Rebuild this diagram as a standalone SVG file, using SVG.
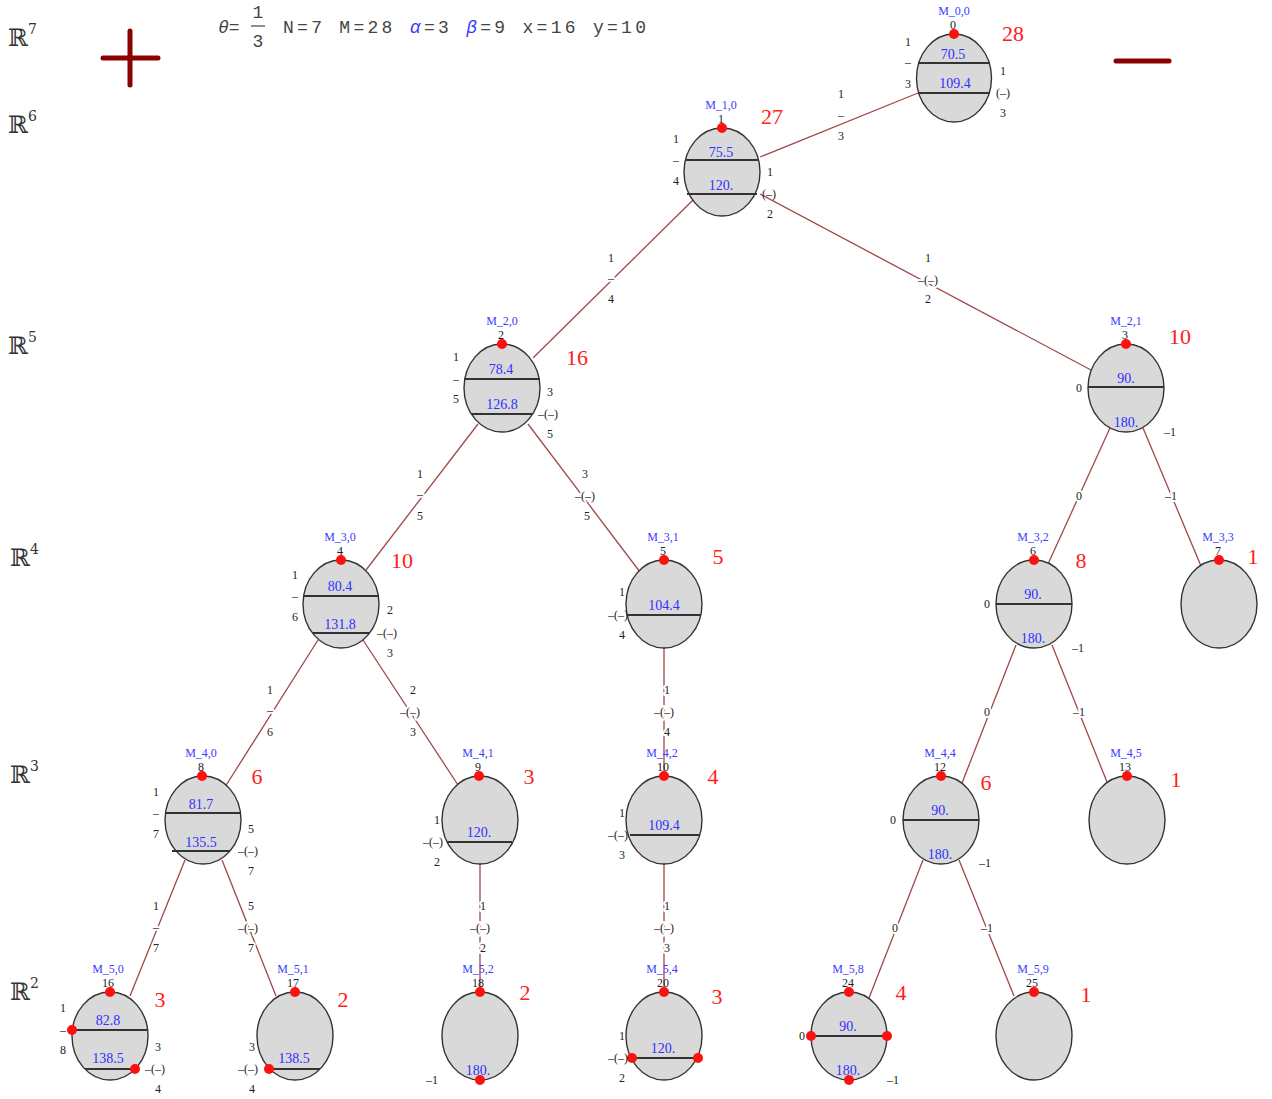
<svg xmlns="http://www.w3.org/2000/svg" width="1272" height="1099" viewBox="0 0 1272 1099">
<defs>
<style>
text{font-family:"Liberation Serif","DejaVu Serif",serif}
.R{font-family:"DejaVu Serif",serif;font-size:24px;fill:#333}
.R tspan{font-size:14px}
.hd{font-family:"Liberation Mono","DejaVu Sans Mono",monospace;font-size:18px;fill:#444}
.nd{fill:#d9d9d9;stroke:#333;stroke-width:1.4}
.ln{stroke:#333;stroke-width:2}
.nm{font-size:12px;fill:#3a3aff;text-anchor:middle}
.ix{font-size:12px;fill:#222;text-anchor:middle}
.v{font-size:14px;fill:#3030ff;text-anchor:middle}
.c{font-size:22px;fill:#ff2020;text-anchor:middle}
.l{font-size:12px;fill:#222;text-anchor:middle}
.elab text{stroke:#fff;stroke-width:4;paint-order:stroke;stroke-linejoin:round}
.dot{fill:#ff1010}
.cn line{stroke:#a04848;stroke-width:1.3}
.pm{stroke:#8b0000;stroke-width:5;stroke-linecap:round}
</style>
</defs>
<rect width="1272" height="1099" fill="#fff"/>
<g id="axis">
<text class="R" x="8" y="46">ℝ<tspan dy="-12">7</tspan></text>
<text class="R" x="8" y="133">ℝ<tspan dy="-12">6</tspan></text>
<text class="R" x="8" y="354">ℝ<tspan dy="-12">5</tspan></text>
<text class="R" x="10" y="566">ℝ<tspan dy="-12">4</tspan></text>
<text class="R" x="10" y="783">ℝ<tspan dy="-12">3</tspan></text>
<text class="R" x="10" y="1000">ℝ<tspan dy="-12">2</tspan></text>
</g>
<g id="plus"><line class="pm" x1="103" y1="58" x2="158" y2="58"/><line class="pm" x1="130" y1="31" x2="130" y2="85"/></g>
<g id="minus"><line class="pm" x1="1116" y1="61" x2="1169" y2="61"/></g>
<g id="header">
<text class="hd" x="218" y="33" font-style="italic">θ=</text>
<text class="hd" x="258" y="18" text-anchor="middle" font-family="Liberation Sans">1</text>
<line x1="251" y1="26" x2="265" y2="26" stroke="#444" stroke-width="1.2"/>
<text class="hd" x="258" y="47" text-anchor="middle" font-family="Liberation Sans">3</text>
<text class="hd" x="283" y="33" textLength="363">N=7 M=28 <tspan font-style="italic" fill="#3a3aff">α</tspan>=3 <tspan font-style="italic" fill="#3a3aff">β</tspan>=9 x=16 y=10</text>
</g>
<g id="connectors" class="cn">
<line x1="918" y1="93" x2="760" y2="157"/>
<line x1="693" y1="200" x2="533" y2="358"/>
<line x1="760" y1="194" x2="1091" y2="370"/>
<line x1="478" y1="424" x2="366" y2="570"/>
<line x1="528" y1="424" x2="640" y2="572"/>
<line x1="1110" y1="428" x2="1048" y2="564"/>
<line x1="1143" y1="428" x2="1201" y2="566"/>
<line x1="318" y1="640" x2="225" y2="787"/>
<line x1="363" y1="640" x2="458" y2="785"/>
<line x1="664" y1="648" x2="664" y2="776"/>
<line x1="1016" y1="645" x2="962" y2="783"/>
<line x1="1052" y1="645" x2="1107" y2="782"/>
<line x1="185" y1="860" x2="130" y2="996"/>
<line x1="222" y1="860" x2="276" y2="996"/>
<line x1="480" y1="864" x2="480" y2="992"/>
<line x1="664" y1="864" x2="664" y2="992"/>
<line x1="923" y1="860" x2="869" y2="998"/>
<line x1="959" y1="860" x2="1014" y2="996"/>
<g class="elab">
<text class="l" x="841" y="98">1</text><text class="l" x="841" y="119">–</text><text class="l" x="841" y="140">3</text>
<text class="l" x="611" y="262">1</text><text class="l" x="611" y="282">–</text><text class="l" x="611" y="303">4</text>
<text class="l" x="928" y="262">1</text><text class="l" x="928" y="284">–(–)</text><text class="l" x="928" y="303">2</text>
<text class="l" x="420" y="478">1</text><text class="l" x="420" y="498">–</text><text class="l" x="420" y="520">5</text>
<text class="l" x="585" y="478">3</text><text class="l" x="585" y="500">–(–)</text><text class="l" x="587" y="520">5</text>
<text class="l" x="1079" y="500">0</text>
<text class="l" x="1171" y="500">–1</text>
<text class="l" x="270" y="694">1</text><text class="l" x="270" y="714">–</text><text class="l" x="270" y="736">6</text>
<text class="l" x="413" y="694">2</text><text class="l" x="410" y="716">–(–)</text><text class="l" x="413" y="736">3</text>
<text class="l" x="667" y="694">1</text><text class="l" x="664" y="716">–(–)</text><text class="l" x="667" y="736">4</text>
<text class="l" x="987" y="716">0</text>
<text class="l" x="1079" y="716">–1</text>
<text class="l" x="156" y="910">1</text><text class="l" x="156" y="931">–</text><text class="l" x="156" y="952">7</text>
<text class="l" x="251" y="910">5</text><text class="l" x="248" y="932">–(–)</text><text class="l" x="251" y="952">7</text>
<text class="l" x="483" y="910">1</text><text class="l" x="480" y="932">–(–)</text><text class="l" x="483" y="952">2</text>
<text class="l" x="667" y="910">1</text><text class="l" x="664" y="932">–(–)</text><text class="l" x="667" y="952">3</text>
<text class="l" x="895" y="932">0</text>
<text class="l" x="987" y="932">–1</text>
</g>
</g>
<g id="M_0_0">
<ellipse class="nd" cx="954" cy="78" rx="37.5" ry="44"/>
<line class="ln" x1="918" y1="63" x2="990" y2="63"/><line class="ln" x1="918" y1="93" x2="990" y2="93"/>
<text class="nm" x="954" y="15">M_0,0</text><text class="ix" x="953" y="29">0</text>
<circle class="dot" cx="954" cy="34" r="5"/>
<text class="v" x="953" y="59">70.5</text><text class="v" x="955" y="88">109.4</text>
<text class="c" x="1013" y="41">28</text>
<text class="l" x="908" y="46">1</text><text class="l" x="908" y="66">–</text><text class="l" x="908" y="88">3</text>
<text class="l" x="1003" y="75">1</text><text class="l" x="1003" y="97">(–)</text><text class="l" x="1003" y="117">3</text>
</g>
<g id="M_1_0">
<ellipse class="nd" cx="722" cy="172" rx="38" ry="44"/>
<line class="ln" x1="685" y1="160" x2="759" y2="160"/><line class="ln" x1="687" y1="194" x2="757" y2="194"/>
<text class="nm" x="721" y="109">M_1,0</text><text class="ix" x="721" y="123">1</text>
<circle class="dot" cx="722" cy="128" r="5"/>
<text class="v" x="721" y="157">75.5</text><text class="v" x="721" y="190">120.</text>
<text class="c" x="772" y="124">27</text>
<text class="l" x="676" y="143">1</text><text class="l" x="676" y="164">–</text><text class="l" x="676" y="185">4</text>
<text class="l" x="770" y="176">1</text><text class="l" x="769" y="198">(–)</text><text class="l" x="770" y="218">2</text>
</g>
<g id="M_2_0">
<ellipse class="nd" cx="502" cy="388" rx="38" ry="44"/>
<line class="ln" x1="464" y1="379" x2="540" y2="379"/><line class="ln" x1="472" y1="414" x2="532" y2="414"/>
<text class="nm" x="502" y="325">M_2,0</text><text class="ix" x="501" y="339">2</text>
<circle class="dot" cx="502" cy="344" r="5"/>
<text class="v" x="501" y="374">78.4</text><text class="v" x="502" y="409">126.8</text>
<text class="c" x="577" y="365">16</text>
<text class="l" x="456" y="361">1</text><text class="l" x="456" y="383">–</text><text class="l" x="456" y="403">5</text>
<text class="l" x="550" y="396">3</text><text class="l" x="548" y="418">–(–)</text><text class="l" x="550" y="438">5</text>
</g>
<g id="M_2_1">
<ellipse class="nd" cx="1126" cy="388" rx="38" ry="44"/>
<line class="ln" x1="1088" y1="387" x2="1164" y2="387"/>
<text class="nm" x="1126" y="325">M_2,1</text><text class="ix" x="1125" y="339">3</text>
<circle class="dot" cx="1126" cy="344" r="5"/>
<text class="v" x="1126" y="383">90.</text><text class="v" x="1126" y="427">180.</text>
<text class="c" x="1180" y="344">10</text>
<text class="l" x="1079" y="392">0</text>
<text class="l" x="1170" y="436">–1</text>
</g>
<g id="M_3_0">
<ellipse class="nd" cx="341" cy="604" rx="38" ry="44"/>
<line class="ln" x1="303" y1="596" x2="379" y2="596"/><line class="ln" x1="313" y1="633" x2="370" y2="633"/>
<text class="nm" x="340" y="541">M_3,0</text><text class="ix" x="340" y="555">4</text>
<circle class="dot" cx="341" cy="560" r="5"/>
<text class="v" x="340" y="591">80.4</text><text class="v" x="340" y="629">131.8</text>
<text class="c" x="402" y="568">10</text>
<text class="l" x="295" y="579">1</text><text class="l" x="295" y="600">–</text><text class="l" x="295" y="621">6</text>
<text class="l" x="390" y="614">2</text><text class="l" x="387" y="637">–(–)</text><text class="l" x="390" y="657">3</text>
</g>
<g id="M_3_1">
<ellipse class="nd" cx="664" cy="604" rx="38" ry="44"/>
<line class="ln" x1="627" y1="615" x2="701" y2="615"/>
<text class="nm" x="663" y="541">M_3,1</text><text class="ix" x="663" y="555">5</text>
<circle class="dot" cx="664" cy="560" r="5"/>
<text class="v" x="664" y="610">104.4</text>
<text class="c" x="718" y="564">5</text>
<text class="l" x="622" y="596">1</text><text class="l" x="618" y="619">–(–)</text><text class="l" x="622" y="639">4</text>
</g>
<g id="M_3_2">
<ellipse class="nd" cx="1034" cy="604" rx="38" ry="44"/>
<line class="ln" x1="996" y1="604" x2="1072" y2="604"/>
<text class="nm" x="1033" y="541">M_3,2</text><text class="ix" x="1033" y="555">6</text>
<circle class="dot" cx="1034" cy="560" r="5"/>
<text class="v" x="1033" y="599">90.</text><text class="v" x="1033" y="643">180.</text>
<text class="c" x="1081" y="568">8</text>
<text class="l" x="987" y="608">0</text>
<text class="l" x="1078" y="652">–1</text>
</g>
<g id="M_3_3">
<ellipse class="nd" cx="1219" cy="604" rx="38" ry="44"/>
<text class="nm" x="1218" y="541">M_3,3</text><text class="ix" x="1218" y="555">7</text>
<circle class="dot" cx="1219" cy="560" r="5"/>
<text class="c" x="1253" y="564">1</text>
</g>
<g id="M_4_0">
<ellipse class="nd" cx="203" cy="820" rx="38" ry="44"/>
<line class="ln" x1="165" y1="813" x2="241" y2="813"/><line class="ln" x1="172" y1="851" x2="230" y2="851"/>
<text class="nm" x="201" y="757">M_4,0</text><text class="ix" x="201" y="771">8</text>
<circle class="dot" cx="202" cy="776" r="5"/>
<text class="v" x="201" y="809">81.7</text><text class="v" x="201" y="847">135.5</text>
<text class="c" x="257" y="784">6</text>
<text class="l" x="156" y="796">1</text><text class="l" x="156" y="817">–</text><text class="l" x="156" y="838">7</text>
<text class="l" x="251" y="833">5</text><text class="l" x="248" y="855">–(–)</text><text class="l" x="251" y="875">7</text>
</g>
<g id="M_4_1">
<ellipse class="nd" cx="480" cy="820" rx="38" ry="44"/>
<line class="ln" x1="447" y1="842" x2="512" y2="842"/>
<text class="nm" x="478" y="757">M_4,1</text><text class="ix" x="478" y="771">9</text>
<circle class="dot" cx="479" cy="776" r="5"/>
<text class="v" x="479" y="837">120.</text>
<text class="c" x="529" y="784">3</text>
<text class="l" x="437" y="824">1</text><text class="l" x="433" y="846">–(–)</text><text class="l" x="437" y="866">2</text>
</g>
<g id="M_4_2">
<ellipse class="nd" cx="664" cy="820" rx="38" ry="44"/>
<line class="ln" x1="630" y1="835" x2="700" y2="835"/>
<text class="nm" x="662" y="757">M_4,2</text><text class="ix" x="663" y="771">10</text>
<circle class="dot" cx="664" cy="776" r="5"/>
<text class="v" x="664" y="830">109.4</text>
<text class="c" x="713" y="784">4</text>
<text class="l" x="622" y="817">1</text><text class="l" x="618" y="839">–(–)</text><text class="l" x="622" y="859">3</text>
</g>
<g id="M_4_4">
<ellipse class="nd" cx="941" cy="820" rx="38" ry="44"/>
<line class="ln" x1="903" y1="820" x2="979" y2="820"/>
<text class="nm" x="940" y="757">M_4,4</text><text class="ix" x="940" y="771">12</text>
<circle class="dot" cx="941" cy="776" r="5"/>
<text class="v" x="940" y="815">90.</text><text class="v" x="940" y="859">180.</text>
<text class="c" x="986" y="790">6</text>
<text class="l" x="893" y="824">0</text>
<text class="l" x="985" y="867">–1</text>
</g>
<g id="M_4_5">
<ellipse class="nd" cx="1127" cy="820" rx="38" ry="44"/>
<text class="nm" x="1126" y="757">M_4,5</text><text class="ix" x="1125" y="771">13</text>
<circle class="dot" cx="1127" cy="776" r="5"/>
<text class="c" x="1176" y="787">1</text>
</g>
<g id="M_5_0">
<ellipse class="nd" cx="110" cy="1036" rx="38" ry="44"/>
<line class="ln" x1="72" y1="1030" x2="148" y2="1030"/><line class="ln" x1="85" y1="1069" x2="135" y2="1069"/>
<text class="nm" x="108" y="973">M_5,0</text><text class="ix" x="108" y="987">16</text>
<circle class="dot" cx="110" cy="992" r="5"/><circle class="dot" cx="72" cy="1030" r="5"/><circle class="dot" cx="135" cy="1069" r="5"/>
<text class="v" x="108" y="1025">82.8</text><text class="v" x="108" y="1063">138.5</text>
<text class="c" x="160" y="1007">3</text>
<text class="l" x="63" y="1012">1</text><text class="l" x="63" y="1034">–</text><text class="l" x="63" y="1054">8</text>
<text class="l" x="158" y="1051">3</text><text class="l" x="155" y="1073">–(–)</text><text class="l" x="158" y="1093">4</text>
</g>
<g id="M_5_1">
<ellipse class="nd" cx="295" cy="1036" rx="38" ry="44"/>
<line class="ln" x1="269" y1="1069" x2="320" y2="1069"/>
<text class="nm" x="293" y="973">M_5,1</text><text class="ix" x="293" y="987">17</text>
<circle class="dot" cx="295" cy="992" r="5"/><circle class="dot" cx="269" cy="1069" r="5"/>
<text class="v" x="294" y="1063">138.5</text>
<text class="c" x="343" y="1007">2</text>
<text class="l" x="252" y="1051">3</text><text class="l" x="248" y="1073">–(–)</text><text class="l" x="252" y="1093">4</text>
</g>
<g id="M_5_2">
<ellipse class="nd" cx="480" cy="1036" rx="38" ry="44"/>
<text class="nm" x="478" y="973">M_5,2</text><text class="ix" x="478" y="987">18</text>
<circle class="dot" cx="480" cy="992" r="5"/><circle class="dot" cx="480" cy="1080" r="5"/>
<text class="v" x="478" y="1075">180.</text>
<text class="c" x="525" y="1000">2</text>
<text class="l" x="432" y="1084">–1</text>
</g>
<g id="M_5_4">
<ellipse class="nd" cx="664" cy="1036" rx="38" ry="44"/>
<line class="ln" x1="632" y1="1058" x2="698" y2="1058"/>
<text class="nm" x="662" y="973">M_5,4</text><text class="ix" x="663" y="987">20</text>
<circle class="dot" cx="664" cy="992" r="5"/><circle class="dot" cx="632" cy="1058" r="5"/><circle class="dot" cx="698" cy="1058" r="5"/>
<text class="v" x="663" y="1053">120.</text>
<text class="c" x="717" y="1004">3</text>
<text class="l" x="622" y="1040">1</text><text class="l" x="618" y="1062">–(–)</text><text class="l" x="622" y="1082">2</text>
</g>
<g id="M_5_8">
<ellipse class="nd" cx="849" cy="1036" rx="38" ry="44"/>
<line class="ln" x1="811" y1="1036" x2="887" y2="1036"/>
<text class="nm" x="848" y="973">M_5,8</text><text class="ix" x="848" y="987">24</text>
<circle class="dot" cx="849" cy="992" r="5"/><circle class="dot" cx="811" cy="1036" r="5"/><circle class="dot" cx="887" cy="1036" r="5"/><circle class="dot" cx="849" cy="1080" r="5"/>
<text class="v" x="848" y="1031">90.</text><text class="v" x="848" y="1075">180.</text>
<text class="c" x="901" y="1000">4</text>
<text class="l" x="802" y="1040">0</text>
<text class="l" x="893" y="1084">–1</text>
</g>
<g id="M_5_9">
<ellipse class="nd" cx="1034" cy="1036" rx="38" ry="44"/>
<text class="nm" x="1033" y="973">M_5,9</text><text class="ix" x="1032" y="987">25</text>
<circle class="dot" cx="1034" cy="992" r="5"/>
<text class="c" x="1086" y="1002">1</text>
</g>
</svg>
